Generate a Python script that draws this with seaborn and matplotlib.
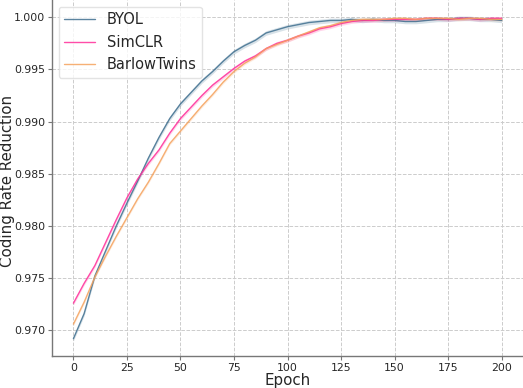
import numpy as np
import pandas as pd
import matplotlib
matplotlib.use("Agg")
import matplotlib.pyplot as plt
import seaborn as sns

epochs = list(range(0, 201, 5))

byol = [0.9692, 0.9716, 0.9752, 0.9776, 0.9800, 0.9822, 0.9843, 0.9865, 0.9885, 0.9903,
        0.9917, 0.9928, 0.9939, 0.9948, 0.9958, 0.9967, 0.9973, 0.9978, 0.9985, 0.9988,
        0.9991, 0.9993, 0.9995, 0.9996, 0.9997, 0.9997, 0.9998, 0.9997, 0.9998, 0.9997,
        0.9997, 0.9996, 0.9996, 0.9997, 0.9998, 0.9998, 0.9999, 0.9999, 0.9998, 0.9998,
        0.9997]
simclr = [0.9726, 0.9745, 0.9762, 0.9784, 0.9806, 0.9827, 0.9845, 0.9860, 0.9873, 0.9889,
          0.9903, 0.9914, 0.9925, 0.9935, 0.9943, 0.9951, 0.9958, 0.9963, 0.9970, 0.9975,
          0.9978, 0.9982, 0.9985, 0.9989, 0.9991, 0.9994, 0.9996, 0.9997, 0.9997, 0.9998,
          0.9998, 0.9998, 0.9998, 0.9999, 0.9999, 0.9998, 0.9999, 0.9999, 0.9998, 0.9999,
          0.9999]
barlow = [0.9706, 0.9727, 0.9751, 0.9771, 0.9790, 0.9808, 0.9826, 0.9842, 0.9860, 0.9879,
          0.9891, 0.9903, 0.9915, 0.9926, 0.9938, 0.9948, 0.9956, 0.9962, 0.9970, 0.9974,
          0.9978, 0.9982, 0.9986, 0.9990, 0.9992, 0.9995, 0.9997, 0.9998, 0.9998, 0.9998,
          0.9999, 0.9999, 0.9998, 0.9999, 0.9999, 0.9999, 0.9998, 0.9999, 0.9999, 0.9998,
          0.9998]

methods = ["BYOL", "SimCLR", "BarlowTwins"]
band = {"BYOL": 0.00022, "SimCLR": 0.00018, "BarlowTwins": 0.00015}
colors = {"BYOL": "#3f6f8f", "SimCLR": "#ff2e9a", "BarlowTwins": "#f5a25d"}

df = pd.concat([
    pd.DataFrame({"Epoch": epochs, "value": vals, "method": m})
    for m, vals in zip(methods, [byol, simclr, barlow])
])

sns.set_style("whitegrid")
plt.rcParams["font.family"] = ["DejaVu Sans"]

fig = plt.figure(figsize=(5.23, 3.88), dpi=100)
ax = fig.add_axes([52 / 523, 32 / 388, 1 - 52 / 523, 1 - 32 / 388])

sns.lineplot(data=df, x="Epoch", y="value", hue="method", hue_order=methods,
             palette=colors, linewidth=1.0, alpha=0.85, ax=ax)
for m, vals in zip(methods, [byol, simclr, barlow]):
    v = np.array(vals)
    ax.fill_between(epochs, v - band[m], v + band[m], color=colors[m], alpha=0.2, lw=0)

ax.set_xlim(-10, 210)
ax.set_ylim(0.96754, 1.00166)
ax.set_xticks([0, 25, 50, 75, 100, 125, 150, 175, 200])
ax.set_yticks([0.970, 0.975, 0.980, 0.985, 0.990, 0.995, 1.000])
ax.yaxis.set_major_formatter(matplotlib.ticker.FormatStrFormatter("%.3f"))
ax.tick_params(labelsize=7.8, length=3, width=0.8, color="#777777", pad=2,
               left=True, bottom=True)
ax.set_xlabel("Epoch", fontsize=10.8, labelpad=0)
ax.set_ylabel("Coding Rate Reduction", fontsize=10.8)
ax.yaxis.set_label_coords(15.5 / 523, 1 - 181 / 388, transform=fig.transFigure)

ax.grid(True, linestyle="--", color="#cccccc", linewidth=0.7)
for s in ["top", "right"]:
    ax.spines[s].set_visible(False)
for s in ["left", "bottom"]:
    ax.spines[s].set_color("#777777")
    ax.spines[s].set_linewidth(1.0)

leg = ax.legend(title=None, fontsize=10.5, loc="upper left", frameon=True,
                bbox_to_anchor=(0.0, 1.0), handlelength=2.1, borderaxespad=0.45)
leg.get_frame().set_edgecolor("#dddddd")

fig.savefig("out.png", dpi=100)
